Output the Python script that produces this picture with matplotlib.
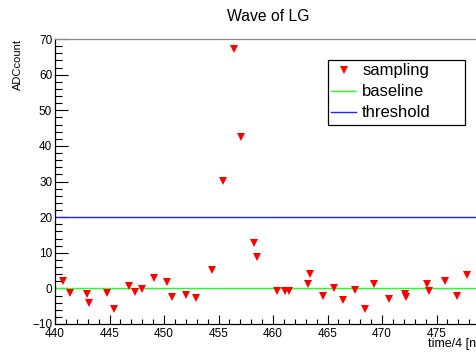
import numpy as np
import matplotlib.pyplot as plt
from matplotlib.patches import Rectangle
from matplotlib.ticker import MultipleLocator

plt.rcParams['font.family'] = ['Liberation Sans', 'DejaVu Sans']

# sampled waveform points (time/4 [ns], ADC count)
time_ns = [440.7, 441.4, 442.9, 443.1, 444.8, 445.4, 446.8, 447.3, 448.0, 449.1,
           450.3, 450.7, 452.0, 452.9, 454.4, 455.4, 456.4, 457.1, 458.3, 458.5,
           460.4, 461.1, 461.5, 463.2, 463.4, 464.6, 465.6, 466.4, 467.5, 468.4,
           469.3, 470.6, 472.1, 472.2, 474.1, 474.3, 475.8, 476.9, 477.8]
adc = [2.0, -1.4, -1.7, -4.2, -1.2, -5.7, 0.7, -1.0, -0.3, 2.8,
       1.8, -2.5, -1.9, -2.7, 5.1, 30.1, 67.1, 42.4, 12.8, 8.9,
       -0.6, -0.6, -0.8, 1.3, 4.0, -2.2, 0.1, -3.4, -0.4, -5.9,
       1.1, -3.0, -1.7, -2.4, 1.1, -0.7, 2.2, -2.2, 3.7]
baseline = 0.0
threshold = 20.0
x_range = (440, 480)
y_range = (-10, 70)
x_labelled = [440, 445, 450, 455, 460, 465, 470, 475]

W, H = 476, 353
fig = plt.figure(figsize=(W / 100, H / 100), dpi=100)
# the frame runs past the right edge of the canvas, as in the reference
ax = fig.add_axes([55 / W, 29 / H, 436 / W, 285 / H])

ax.axhline(baseline, color='#22ff22', lw=1.0, label='baseline', zorder=2)
ax.axhline(threshold, color='#2222ff', lw=1.0, label='threshold', zorder=2)
ax.plot(time_ns, adc, linestyle='none', marker='v', ms=6, color='red',
        markeredgewidth=0, label='sampling', zorder=3)

ax.set_xlim(*x_range)
ax.set_ylim(*y_range)
ax.set_xticks(x_labelled)
ax.xaxis.set_minor_locator(MultipleLocator(1))
ax.yaxis.set_major_locator(MultipleLocator(10))
ax.yaxis.set_minor_locator(MultipleLocator(2))
ax.tick_params(axis='both', which='both', direction='in', labelsize=8.5,
               color='black', width=0.8)
ax.tick_params(axis='y', which='major', length=9, pad=2)
ax.tick_params(axis='y', which='minor', length=4.8)
ax.tick_params(axis='x', which='major', length=6.5, pad=3)
ax.tick_params(axis='x', which='minor', length=3.3)
for side in ['left', 'bottom']:
    ax.spines[side].set_linewidth(0.9)
ax.spines['top'].set_color('#888888')
ax.spines['top'].set_linewidth(0.9)

fig.text(268 / W, 1 - 20.7 / H, 'Wave of LG', ha='center', va='baseline', fontsize=11.3)
fig.text(18 / W, 1 - 39 / H, 'ADCcount', rotation=90, ha='center', va='top', fontsize=8)
fig.text(427.7 / W, 1 - 344 / H, 'time/4 [ns]', ha='left', va='center', fontsize=9)

# legend box with a fixed size, like the ROOT TLegend
box = Rectangle((328 / W, 1 - 125 / H), 137 / W, 65 / H,
                transform=fig.transFigure, facecolor='white',
                edgecolor='black', lw=0.9, zorder=4, clip_on=False)
ax.add_artist(box)
handles, labels = ax.get_legend_handles_labels()
order = [2, 0, 1]
leg = ax.legend([handles[i] for i in order], [labels[i] for i in order],
                loc='upper left', bbox_to_anchor=(328 / W, 1 - 60 / H),
                bbox_transform=fig.transFigure, fontsize=12, frameon=False,
                borderpad=0.2, labelspacing=0.36, handlelength=1.5,
                handletextpad=0.35, borderaxespad=0)
leg.set_zorder(5)

fig.savefig('out.png', dpi=100)
